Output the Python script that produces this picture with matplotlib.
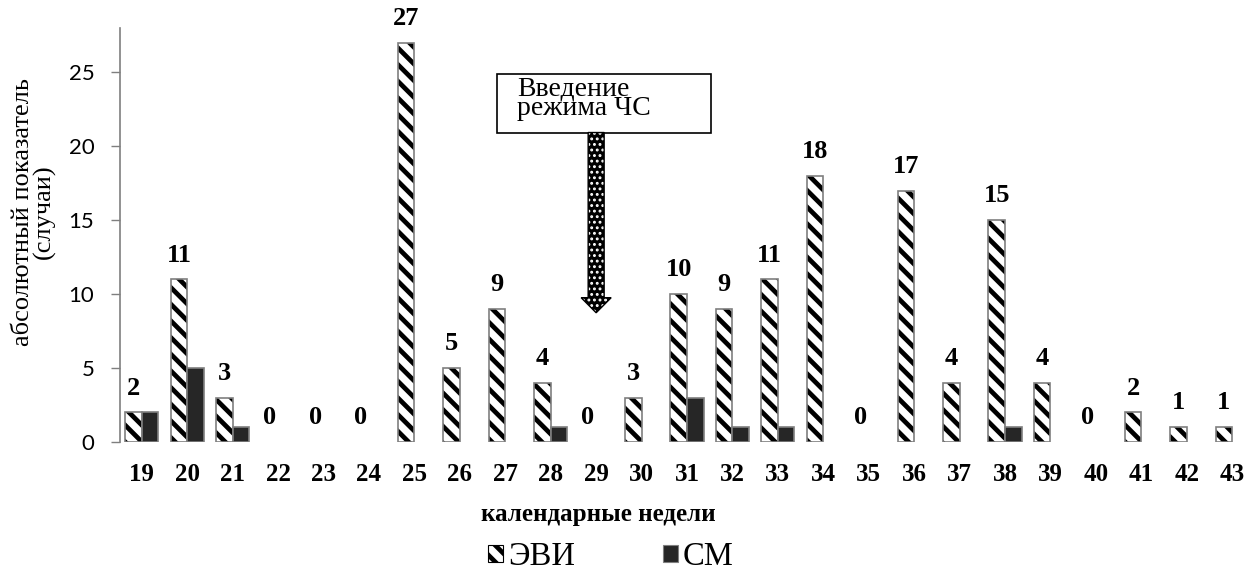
import numpy as np
import matplotlib
matplotlib.use("Agg")
import matplotlib.pyplot as plt
from matplotlib.patches import Patch, Rectangle, Polygon

plt.rcParams["hatch.linewidth"] = 3.4

weeks = list(range(19, 44))
evi = [2, 11, 3, 0, 0, 0, 27, 5, 9, 4, 0, 3, 10, 9, 11, 18, 0, 17, 4, 15, 4, 0, 2, 1, 1]
sm = [2, 5, 1, 0, 0, 0, 0, 0, 0, 1, 0, 0, 3, 1, 1, 0, 0, 0, 0, 1, 0, 0, 0, 0, 0]
yticks = [0, 5, 10, 15, 20, 25]

SERIF = ["Liberation Serif", "DejaVu Serif"]
EDGE = "#7f7f7f"
DARK = "#262626"

x = np.array(weeks, dtype=float)
evi = np.array(evi)
sm = np.array(sm)
w = 0.365

fig = plt.figure(figsize=(12.57, 5.71), dpi=100)
ax = fig.add_axes([0.0955, 0.2259, 0.9021, 0.7251])

# ЭВИ: hatched bars (black hatch) + grey outline on top
m = evi > 0
ax.bar(x[m] - w / 2, evi[m], w, facecolor="white", edgecolor="black",
       hatch="\\\\", linewidth=0)
ax.bar(x[m] - w / 2, evi[m], w, fill=False, edgecolor=EDGE, linewidth=1.2)

# СМ: solid dark bars
m2 = sm > 0
ax.bar(x[m2] + w / 2, sm[m2], w, facecolor=DARK, edgecolor=EDGE, linewidth=1.2)

# value labels above the ЭВИ bars
for xi, v in zip(x, evi):
    ax.annotate(str(v), (xi - w / 2, v), xytext=(0, 17.5), textcoords="offset points",
                ha="center", va="center", fontsize=19, fontweight="bold",
                family=SERIF)

ax.set_xlim(18.52, 43.48)
ax.set_ylim(0, 28)
ax.set_xticks(x)
ax.set_xticklabels([str(wk) for wk in weeks], fontsize=18, fontweight="bold",
                   family=SERIF)
ax.tick_params(axis="x", length=0, pad=15)
ax.set_yticks(yticks)
ax.set_yticklabels([str(t) for t in yticks], fontsize=16, family="Lato")
ax.tick_params(axis="y", direction="out", length=6.5, width=1, color=EDGE, pad=12)

for s in ["top", "right", "bottom"]:
    ax.spines[s].set_visible(False)
ax.spines["left"].set_color(EDGE)
ax.spines["left"].set_linewidth(1.2)

# annotation box with the arrow pointing at week 29
ax.add_patch(Rectangle((26.82, 20.93), 4.71, 3.95, facecolor="white",
                       edgecolor="black", linewidth=1.2, zorder=3))
ax.text(27.26, 23.2, "Введение\nрежима ЧС", ha="left", va="center",
        fontsize=20, family=SERIF, linespacing=0.72, zorder=4)

ax_x, sh, hh = 29.0, 0.176, 0.33
top, head, tip = 20.93, 9.76, 8.74
pts = [(ax_x - sh, top), (ax_x + sh, top), (ax_x + sh, head), (ax_x + hh, head),
       (ax_x, tip), (ax_x - hh, head), (ax_x - sh, head)]
dots = Polygon(pts, closed=True, facecolor="black", edgecolor="white",
               hatch="...", linewidth=0, zorder=3)
if hasattr(dots, "set_hatch_linewidth"):
    dots.set_hatch_linewidth(1.3)
ax.add_patch(dots)
ax.add_patch(Polygon(pts, closed=True, fill=False, edgecolor="black",
                     linewidth=1.0, zorder=3))

# axis titles
fig.text(0.027, 1 - 212 / 571, "абсолютный показатель\n(случаи)", rotation=90,
         ha="center", va="center", fontsize=19, family=SERIF, linespacing=0.95)
fig.text(0.476, 1 - 515 / 571, "календарные недели", ha="center", va="center",
         fontsize=18, fontweight="bold", family=SERIF)

handles = [Patch(facecolor="white", edgecolor="black", hatch="\\\\", linewidth=0.8),
           Patch(facecolor=DARK, edgecolor=EDGE, linewidth=0.8)]
fig.legend(handles, ["ЭВИ", "СМ"], loc="center", bbox_to_anchor=(0.486, 1 - 557 / 571),
           ncol=2, frameon=False, prop={"family": SERIF, "size": 23.5},
           handlelength=0.45, handleheight=0.45, handletextpad=0.15, columnspacing=2.7,
           borderpad=0.1)

fig.savefig("out.png", dpi=100)
